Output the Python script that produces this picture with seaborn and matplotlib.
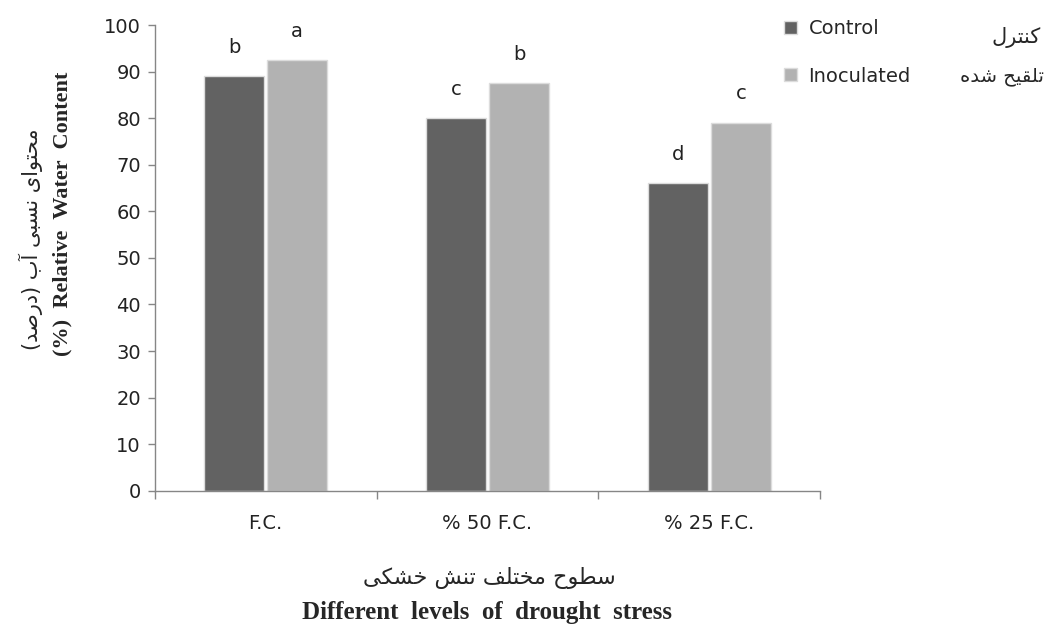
import pandas as pd
import matplotlib
matplotlib.use('Agg')
import matplotlib.pyplot as plt
import seaborn as sns
from matplotlib.ticker import FixedLocator

# ---- data ----
levels = ['F.C.', '% 50 F.C.', '% 25 F.C.']
groups = ['Control', 'Inoculated']
control_vals = [89, 80, 66]
inoculated_vals = [92.5, 87.5, 79]
control_letters = ['b', 'c', 'd']
inoculated_letters = ['a', 'b', 'c']
y_ticks = [0, 10, 20, 30, 40, 50, 60, 70, 80, 90, 100]

# Persian text written in visual order with Arabic presentation forms
# (matplotlib does no shaping / bidi)
fa_control = '\uFEDD\uFEAE\uFE98\uFEE8\uFB90'                       # کنترل
fa_inoc = '\uFEE9\uFEAA\uFEB7 \uFEA2\uFBFF\uFED8\uFEE0\uFE97'       # تلقیح شده
fa_ylabel = ('(\uFEAA\uFEBB\uFEAD\uFEA9) \uFE8F\uFE81 \uFBFD\uFE92\uFEB4\uFEE7 '
             '\uFBFC\uFE8D\uFEEE\uFE98\uFEA4\uFEE3')                # محتوای نسبی آب (درصد)
fa_xlabel = ('\uFBFD\uFB91\uFEB8\uFEA7 \uFEB6\uFEE8\uFE97 '
             '\uFED2\uFEE0\uFE98\uFEA8\uFEE3 \uFEA1\uFEEE\uFEC4\uFEB3')  # سطوح مختلف تنش خشکی

df = pd.DataFrame({
    'Level': levels * 2,
    'Group': [groups[0]] * 3 + [groups[1]] * 3,
    'RWC': control_vals + inoculated_vals,
})

sns.set_style('white')
plt.rcParams['font.family'] = ['DejaVu Sans']

fig = plt.figure(figsize=(10.46, 6.26), dpi=100)
ax = fig.add_axes([0.148, 0.216, 0.636, 0.744])

sns.barplot(data=df, x='Level', y='RWC', hue='Group', order=levels,
            hue_order=groups, palette=['#626262', '#b2b2b2'],
            width=0.57, gap=0.05, edgecolor='#dcdcdc', linewidth=1,
            legend=False, ax=ax)

# significance letters
for cont, letters in zip(ax.containers, [control_letters, inoculated_letters]):
    ax.bar_label(cont, labels=letters, padding=14, fontsize=14, color='#222222')

ax.set_ylim(0, 100)
ax.set_xlim(-0.5, 2.5)
ax.set_yticks(y_ticks)
ax.xaxis.set_minor_locator(FixedLocator([-0.5, 0.5, 1.5, 2.5]))
ax.tick_params(axis='y', direction='out', length=5, width=1, color='#868686',
               labelsize=14, pad=5, left=True)
ax.tick_params(axis='x', which='major', length=0, labelsize=14, pad=17)
ax.tick_params(axis='x', which='minor', direction='out', length=6, width=1,
               color='#868686', bottom=True)
for lab in ax.get_xticklabels() + ax.get_yticklabels():
    lab.set_color('#222222')

sns.despine(ax=ax)
for s in ['left', 'bottom']:
    ax.spines[s].set_color('#868686')
    ax.spines[s].set_linewidth(1)

ax.set_xlabel('')
ax.set_ylabel('')

# axis titles
fig.text(0.468, 0.076, fa_xlabel, ha='center', va='center', fontsize=16,
         family=['DejaVu Sans'])
fig.text(0.466, 0.022, 'Different  levels  of  drought  stress', ha='center',
         va='center', fontsize=18, fontweight='bold', family=['Liberation Serif'])
fig.text(0.060, 0.658, '(%)  Relative  Water  Content',
         rotation=90, ha='center', va='center', fontsize=16, fontweight='bold',
         family=['Liberation Serif'])
fig.text(0.029, 0.618, fa_ylabel, rotation=90, ha='center', va='center',
         fontsize=15, family=['DejaVu Sans'])

# legend outside the plot
handles = [ax.containers[0].patches[0], ax.containers[1].patches[0]]
fig.legend(handles, groups, loc='upper left', bbox_to_anchor=(0.733, 0.997),
           frameon=False, fontsize=14, handlelength=0.65, handleheight=0.65,
           handletextpad=0.6, labelspacing=1.45)
fig.text(0.995, 0.940, fa_control, ha='right', va='center', fontsize=15,
         family=['DejaVu Sans'])
fig.text(0.998, 0.878, fa_inoc, ha='right', va='center', fontsize=14,
         family=['DejaVu Sans'])

fig.savefig('out.png', dpi=100)
